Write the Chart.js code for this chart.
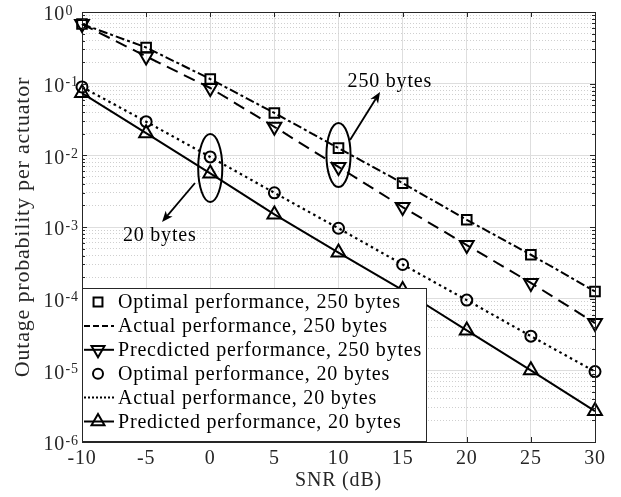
<!DOCTYPE html>
<html><head><meta charset="utf-8">
<script src="https://cdn.jsdelivr.net/npm/chart.js@4/dist/chart.umd.min.js"></script>
<style>html,body{margin:0;padding:0;background:#fff}#wrap{width:621px;height:497px;position:relative}</style>
</head><body><div id="wrap"><canvas id="c" width="621" height="497"></canvas></div>
<script>
// ---- data ----
const snr = [-10, -5, 0, 5, 10, 15, 20, 25, 30];
const optimal250   = [0.68, 0.32, 0.116, 0.039, 0.0126, 0.0041, 0.00126, 0.00041, 0.000126];
const actual250    = [0.68, 0.32, 0.116, 0.039, 0.0126, 0.0041, 0.00126, 0.00041, 0.000126];
const predicted250 = [0.68, 0.24, 0.087, 0.025, 0.0069, 0.0019, 0.00056, 0.000166, 0.0000457];
const optimal20    = [0.09, 0.0295, 0.0095, 0.003, 0.00096, 0.0003, 0.0000955, 0.00003, 0.0000096];
const actual20     = [0.09, 0.0295, 0.0095, 0.003, 0.00096, 0.0003, 0.0000955, 0.00003, 0.0000096];
const predicted20  = [0.074, 0.0204, 0.0056, 0.0015, 0.00044, 0.000132, 0.000036, 0.00001, 0.0000027];
const xTicks = [-10, -5, 0, 5, 10, 15, 20, 25, 30];
const yDecades = [-6, -5, -4, -3, -2, -1, 0];
const seriesNames = [
  'Optimal performance, 250 bytes',
  'Actual performance, 250 bytes',
  'Precdicted performance, 250 bytes',
  'Optimal performance, 20 bytes',
  'Actual performance, 20 bytes',
  'Predicted performance, 20 bytes'
];
const xTitle = 'SNR (dB)';
const yTitle = 'Outage probability per actuator';
const annoText = ['250 bytes', '20 bytes'];
// annotation anchors in data space: [snr, probability]
const annoTextPos = [[14.0, 0.105], [-3.94, 0.00075]];
const annoEllipse = [[10, 0.0101, 0.94, 0.446], [0, 0.00666, 0.94, 0.474]]; // cx, cy, rx(dB), ry(decades)
const annoArrow = [[[10.9, 0.01637], [13.24, 0.0766]], [[-1.19, 0.00411], [-3.76, 0.001175]]];

const FONT = "'Liberation Serif', 'Times New Roman', serif";
const INK = '#262626';
const isDecade = v => Math.abs(Math.log10(v) - Math.round(Math.log10(v))) < 1e-6;
const xy = arr => snr.map((x, i) => ({x: x, y: arr[i]}));
const yTickValues = [];
yDecades.forEach(e => {
  if (e < 0) { for (let m = 1; m <= 9; m++) yTickValues.push(m * Math.pow(10, e)); }
  else yTickValues.push(Math.pow(10, e));
});

const base = {borderColor: '#000', backgroundColor: 'rgba(0,0,0,0)', pointBorderColor: '#000',
  pointBackgroundColor: 'rgba(0,0,0,0)', clip: false, tension: 0};
const datasets = [
  Object.assign({}, base, {label: seriesNames[0], data: xy(optimal250), showLine: false, pointStyle: 'rect',
    pointRadius: 6.8, pointBorderWidth: 2, legendDash: null}),
  Object.assign({}, base, {label: seriesNames[1], data: xy(actual250), pointRadius: 0, borderWidth: 2,
    borderDash: [9, 3, 3, 3], legendDash: [6, 3]}),
  Object.assign({}, base, {label: seriesNames[2], data: xy(predicted250), pointStyle: 'triangle', pointRotation: 180,
    pointRadius: 8, pointBorderWidth: 2, borderWidth: 2, borderDash: [12, 7], legendDash: []}),
  Object.assign({}, base, {label: seriesNames[3], data: xy(optimal20), showLine: false, pointStyle: 'circle',
    pointRadius: 5.5, pointBorderWidth: 2, legendDash: null}),
  Object.assign({}, base, {label: seriesNames[4], data: xy(actual20), pointRadius: 0, borderWidth: 2.2,
    borderDash: [2.5, 3.5], legendDash: [2, 2]}),
  Object.assign({}, base, {label: seriesNames[5], data: xy(predicted20), pointStyle: 'triangle',
    pointRadius: 8, pointBorderWidth: 2, borderWidth: 2, legendDash: []})
];

function arrow(ctx, x1, y1, x2, y2) {
  const a = Math.atan2(y2 - y1, x2 - x1), L = 11, w = 4.5, n = 3;
  ctx.beginPath(); ctx.moveTo(x1, y1);
  ctx.lineTo(x2 - Math.cos(a) * (L - n), y2 - Math.sin(a) * (L - n)); ctx.stroke();
  ctx.beginPath(); ctx.moveTo(x2, y2);
  ctx.lineTo(x2 - Math.cos(a) * L - Math.sin(a) * w, y2 - Math.sin(a) * L + Math.cos(a) * w);
  ctx.lineTo(x2 - Math.cos(a) * (L - n), y2 - Math.sin(a) * (L - n));
  ctx.lineTo(x2 - Math.cos(a) * L + Math.sin(a) * w, y2 - Math.sin(a) * L - Math.cos(a) * w);
  ctx.closePath(); ctx.fill();
}

const deco = {
  id: 'deco',
  beforeDraw(chart) { chart.ctx.letterSpacing = '0.8px'; },
  afterDatasetsDraw(chart) {
    const ctx = chart.ctx, xs = chart.scales.x, ys = chart.scales.y;
    ctx.save();
    ctx.strokeStyle = '#000'; ctx.fillStyle = '#000'; ctx.lineWidth = 2; ctx.setLineDash([]);
    annoEllipse.forEach(e => {
      const cx = xs.getPixelForValue(e[0]), cy = ys.getPixelForValue(e[1]);
      const rx = xs.getPixelForValue(e[0] + e[2]) - cx;
      const ry = cy - ys.getPixelForValue(e[1] * Math.pow(10, e[3]));
      ctx.beginPath(); ctx.ellipse(cx, cy, rx, ry, 0, 0, Math.PI * 2); ctx.stroke();
    });
    ctx.lineWidth = 1.8;
    annoArrow.forEach(a => {
      arrow(ctx, xs.getPixelForValue(a[0][0]), ys.getPixelForValue(a[0][1]),
        xs.getPixelForValue(a[1][0]), ys.getPixelForValue(a[1][1]));
    });
    ctx.font = '20px ' + FONT; ctx.textAlign = 'center'; ctx.textBaseline = 'middle';
    annoText.forEach((t, i) => {
      ctx.fillText(t, xs.getPixelForValue(annoTextPos[i][0]), ys.getPixelForValue(annoTextPos[i][1]));
    });
    ctx.restore();
  },
  afterDraw(chart) {
    const ctx = chart.ctx, xs = chart.scales.x, ys = chart.scales.y, A = chart.chartArea;
    ctx.save();
    ctx.setLineDash([]);
    // box
    ctx.strokeStyle = INK; ctx.lineWidth = 1;
    ctx.beginPath();
    ctx.moveTo(A.left, A.top + 0.5); ctx.lineTo(A.right + 0.5, A.top + 0.5); ctx.lineTo(A.right + 0.5, A.bottom);
    ctx.stroke();
    // inward ticks
    ctx.beginPath();
    xs.ticks.forEach(t => {
      const px = Math.round(xs.getPixelForValue(t.value)) + 0.5;
      ctx.moveTo(px, A.bottom); ctx.lineTo(px, A.bottom - 5);
      ctx.moveTo(px, A.top); ctx.lineTo(px, A.top + 5);
    });
    ys.ticks.forEach(t => {
      const py = Math.round(ys.getPixelForValue(t.value)) + 0.5;
      const len = isDecade(t.value) ? 5 : 3;
      ctx.moveTo(A.left, py); ctx.lineTo(A.left + len, py);
      ctx.moveTo(A.right, py); ctx.lineTo(A.right - len, py);
    });
    ctx.stroke();
    // exponents of y tick labels
    ctx.fillStyle = INK; ctx.font = '14px ' + FONT; ctx.textAlign = 'left'; ctx.textBaseline = 'alphabetic';
    yDecades.forEach(e => {
      const py = ys.getPixelForValue(Math.pow(10, e));
      ctx.fillText(String(e), ys.right - 17 + 0.5, py + 2.5);
    });
    // legend
    const W = 345, H = 154, L = A.left, T = A.bottom - H;
    ctx.fillStyle = '#fff'; ctx.fillRect(L, T, W, H);
    ctx.strokeStyle = INK; ctx.lineWidth = 1; ctx.strokeRect(L + 0.5, T + 0.5, W - 1, H - 1);
    chart.data.datasets.forEach((ds, i) => {
      const y = T + 14 + i * 23.9;
      ctx.strokeStyle = '#000'; ctx.lineWidth = 2;
      if (ds.legendDash) {
        ctx.setLineDash(ds.legendDash);
        ctx.beginPath(); ctx.moveTo(L + 2, y); ctx.lineTo(L + 32, y); ctx.stroke();
        ctx.setLineDash([]);
      }
      if (ds.pointRadius > 0) {
        ctx.fillStyle = 'rgba(0,0,0,0)';
        Chart.helpers.drawPoint(ctx, {pointStyle: ds.pointStyle, rotation: ds.pointRotation || 0,
          radius: ds.pointStyle === 'triangle' ? 7.5 : ds.pointRadius - 0.5, borderWidth: 2}, L + 16, y);
      }
      ctx.fillStyle = '#000'; ctx.font = '20px ' + FONT; ctx.textAlign = 'left'; ctx.textBaseline = 'middle';
      ctx.fillText(ds.label, L + 36, y + 1);
    });
    ctx.restore();
  }
};

const noPad = s => { s.paddingTop = 0; s.paddingBottom = 0; s.paddingLeft = 0; s.paddingRight = 0; };

new Chart(document.getElementById('c'), {
  type: 'line',
  data: {datasets: datasets},
  options: {
    responsive: false, animation: false, devicePixelRatio: 1,
    layout: {padding: {top: 12, right: 26, left: 0, bottom: 0}},
    plugins: {legend: {display: false}, tooltip: {enabled: false}},
    scales: {
      x: {
        type: 'linear', min: -10, max: 30,
        afterBuildTicks: s => { s.ticks = xTicks.map(v => ({value: v})); },
        ticks: {font: {family: FONT, size: 20}, color: INK, padding: 5, autoSkip: false, maxRotation: 0},
        grid: {color: '#dedede', lineWidth: 1, drawTicks: false},
        border: {display: true, color: INK, width: 1},
        title: {display: true, text: xTitle, font: {family: FONT, size: 20}, color: INK, padding: {top: 0, bottom: 4}},
        afterFit: s => { s.height = 55; noPad(s); }
      },
      y: {
        type: 'logarithmic', min: 1e-6, max: 1,
        afterBuildTicks: s => { s.ticks = yTickValues.map(v => ({value: v, major: isDecade(v)})); },
        ticks: {callback: v => isDecade(v) ? '10' : '', font: {family: FONT, size: 20}, color: INK,
          padding: 17, labelOffset: 3, autoSkip: false},
        grid: {color: c => (c.tick && isDecade(c.tick.value)) ? '#dedede' : '#cfcfcf', lineWidth: 1, drawTicks: false},
        border: {display: true, color: INK, width: 1,
          dash: c => (c.tick && !isDecade(c.tick.value)) ? [1, 2] : []},
        title: {display: true, text: yTitle, font: {family: FONT, size: 22}, color: INK, padding: {top: 10, bottom: 0}},
        afterFit: s => { s.width = 82; noPad(s); }
      }
    }
  },
  plugins: [deco]
});
</script>
</body></html>
